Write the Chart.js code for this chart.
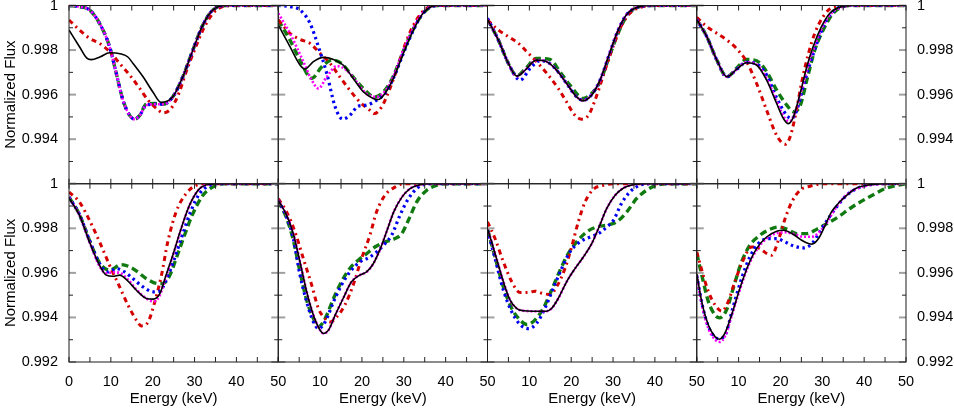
<!DOCTYPE html>
<html>
<head>
<meta charset="utf-8">
<script src="https://cdn.jsdelivr.net/npm/chart.js@4"></script>
<style>
  html, body { margin: 0; padding: 0; background: #ffffff; }
  #wrap { position: relative; width: 954px; height: 412px; overflow: hidden; background: #fff; }
  #wrap canvas { position: absolute; left: 0; top: 0; }
</style>
</head>
<body>
<div id="wrap"></div>
<script>
// ---------- tick labels / axes ----------
const xTickValues = [0, 5, 10, 15, 20, 25, 30, 35, 40, 45, 50];
const xLabelValues = [0, 10, 20, 30, 40, 50];
const xLabelTexts = ['0', '10', '20', '30', '40', '50'];
const yTickValues = [0.992, 0.993, 0.994, 0.995, 0.996, 0.997, 0.998, 0.999, 1.0];
const yLabelValues = [1.0, 0.998, 0.996, 0.994, 0.992];
const yLabelTexts = ['1', '0.998', '0.996', '0.994', '0.992'];
const xTitle = 'Energy (keV)';
const yTitle = 'Normalized Flux';
const seriesNames = ['black', 'magenta', 'blue', 'red', 'green'];

// ---------- data: [energy keV, normalized flux] ----------
// Panel 1 (top, column 1)
const p1Black = [[0,0.9989],[2.5,0.99815],[4.2,0.99765],[5.3,0.99757],[7.5,0.9977],[9.7,0.99788],[12.5,0.99782],[14,0.9977],[15.3,0.9974],[17.7,0.9968],[20,0.99613],[22,0.99565],[24.8,0.9959],[27.2,0.9968],[29.6,0.998],[32,0.99913],[34.4,0.9998],[37.6,1.0],[50,1.0]];
const p1Blue = [[0,1.0],[2.5,0.99995],[4.9,0.9998],[7.3,0.9992],[9.7,0.99815],[11.3,0.99695],[12.9,0.99575],[14.5,0.99507],[15.7,0.9949],[16.9,0.99507],[18.5,0.99553],[20.5,0.99557],[22.5,0.99557],[24.8,0.9959],[27.2,0.9968],[29.6,0.998],[32,0.99913],[34.4,0.9998],[37.6,1.0],[50,1.0]];
const p1Magenta = [[0,1.0],[2.5,0.99995],[4.9,0.9998],[7.3,0.9992],[9.7,0.99815],[11.3,0.99695],[12.9,0.99575],[14.5,0.99507],[15.7,0.9949],[16.9,0.99507],[18.5,0.99553],[20.5,0.99557],[22.5,0.99557],[24.8,0.9959],[27.2,0.9968],[29.6,0.998],[32,0.99913],[34.4,0.9998],[37.6,1.0],[50,1.0]];
const p1Green = [[0,1.0],[2.5,0.99995],[4.9,0.9998],[7.3,0.9992],[9.7,0.99815],[11.3,0.99695],[12.9,0.99575],[14.5,0.99507],[15.7,0.9949],[16.9,0.99507],[18.5,0.99558],[20.5,0.9956],[22.5,0.99557],[24.8,0.9959],[27.2,0.9968],[29.6,0.998],[32,0.99913],[34.4,0.9998],[37.6,1.0],[50,1.0]];
const p1Red = [[0,0.99935],[2.5,0.9989],[4.9,0.99853],[7.3,0.9983],[9.7,0.99793],[12.1,0.9974],[14.5,0.99688],[16.9,0.99628],[18.9,0.99575],[20.9,0.99538],[22.5,0.99518],[24.4,0.99538],[26.4,0.99613],[28,0.99703],[30,0.998],[32,0.9989],[34.4,0.99965],[36.8,0.99995],[40,1.0],[50,1.0]];

// Panel 2 (top, column 2)
const p2Black = [[0,0.99913],[2.8,0.99815],[5.2,0.99733],[6.4,0.99715],[8.4,0.99748],[10.8,0.99767],[13.2,0.99758],[15.5,0.99733],[17.9,0.99673],[20.3,0.99613],[22.7,0.99583],[23.9,0.99578],[25.5,0.99605],[27.5,0.99673],[29.9,0.99785],[32.3,0.9989],[34.6,0.99965],[37.8,1.0],[50,1.0]];
const p2Green = [[0,0.99935],[2.8,0.99845],[5.2,0.99755],[8,0.99673],[10.4,0.99725],[12.8,0.99755],[15.1,0.9974],[17.5,0.99688],[20.3,0.99628],[23.1,0.9959],[25.5,0.9962],[27.5,0.99683],[29.9,0.99795],[32.3,0.99895],[34.6,0.99965],[37.8,1.0],[50,1.0]];
const p2Magenta = [[0,0.99965],[2.8,0.99875],[6,0.99748],[8,0.99665],[9.6,0.99628],[11.6,0.9968],[14,0.99728],[16.3,0.9971],[18.7,0.99658],[21,0.99605],[23.5,0.9959],[25.5,0.99615],[27.5,0.9968],[29.9,0.998],[32.3,0.99898],[34.6,0.99968],[37.8,1.0],[50,1.0]];
const p2Blue = [[0,1.0],[2.8,0.99995],[5.2,0.9998],[7.6,0.9992],[9.6,0.99815],[11.6,0.99695],[13.6,0.99545],[15.4,0.9949],[17.1,0.99507],[19.1,0.99548],[21.1,0.99553],[23.5,0.99575],[25.5,0.99605],[27.5,0.99673],[29.9,0.99785],[32.3,0.9989],[34.6,0.99965],[37.8,1.0],[50,1.0]];
const p2Red = [[0,0.99935],[2.8,0.99875],[5.2,0.99848],[7.6,0.9983],[10,0.99785],[12.4,0.9974],[14.7,0.9968],[17.1,0.9962],[19.5,0.99567],[21.9,0.9953],[22.9,0.99515],[24.7,0.99545],[26.7,0.99628],[28.7,0.99733],[30.7,0.99845],[33,0.99935],[35.5,0.99988],[38,1.0],[50,1.0]];

// Panel 3 (top, column 3)
const p3Black = [[0,0.99938],[2.6,0.99845],[5,0.9974],[7,0.99683],[9,0.9971],[11.7,0.99755],[14.1,0.99748],[16.5,0.9971],[18.9,0.9965],[21.3,0.9959],[22.9,0.99572],[24.9,0.99598],[26.9,0.99665],[28.9,0.9977],[30.9,0.99875],[33.2,0.99958],[36.4,0.99995],[40,1.0],[50,1.0]];
const p3Magenta = [[0,0.99938],[2.6,0.99845],[5,0.9974],[7,0.99683],[9,0.9971],[11.7,0.99755],[14.1,0.99748],[16.5,0.9971],[18.9,0.9965],[21.3,0.9959],[22.9,0.99574],[24.9,0.996],[26.9,0.99665],[28.9,0.9977],[30.9,0.99875],[33.2,0.99958],[36.4,0.99995],[40,1.0],[50,1.0]];
const p3Blue = [[0,0.99943],[2.6,0.99845],[5,0.9974],[7.8,0.99665],[10.2,0.99718],[12.5,0.99752],[14.1,0.99748],[16.5,0.9971],[18.9,0.9965],[21.3,0.9959],[22.9,0.99575],[24.9,0.996],[26.9,0.99665],[28.9,0.9977],[30.9,0.99875],[33.2,0.99958],[36.4,0.99995],[40,1.0],[50,1.0]];
const p3Green = [[0,0.99938],[2.6,0.99845],[5,0.9974],[7,0.99685],[9,0.99715],[11.7,0.99762],[14.9,0.99758],[17.3,0.99703],[19.7,0.99643],[22.9,0.99583],[24.9,0.99605],[26.9,0.99658],[28.9,0.9976],[30.9,0.99862],[33.2,0.9995],[36.4,0.99995],[40,1.0],[50,1.0]];
const p3Red = [[0,0.99935],[2.6,0.9989],[5,0.9986],[7.4,0.9983],[9.8,0.99785],[12.1,0.9974],[14.5,0.99688],[16.9,0.99628],[18.9,0.99567],[20.9,0.99507],[22.5,0.9949],[24.1,0.99507],[25.7,0.99575],[27.7,0.99688],[29.7,0.998],[31.7,0.99898],[34,0.99965],[37.2,0.99995],[40,1.0],[50,1.0]];

// Panel 4 (top, column 4)
const p4Black = [[0,0.99938],[2.4,0.9986],[4.8,0.99755],[7.2,0.9968],[9.5,0.99713],[11.9,0.99743],[14.3,0.99733],[16.7,0.99665],[19.1,0.9956],[20.7,0.99493],[21.9,0.9947],[23.1,0.995],[24.7,0.99605],[26.3,0.99725],[27.8,0.99815],[29.8,0.99905],[31.8,0.99965],[34.6,0.99995],[38,1.0],[50,1.0]];
const p4Magenta = [[0,0.99938],[2.4,0.9986],[4.8,0.99755],[7.2,0.9968],[9.5,0.99713],[11.9,0.99745],[14.3,0.99735],[16.7,0.99672],[19.1,0.9957],[21,0.99495],[22.2,0.9948],[23.4,0.99515],[25,0.9962],[26.6,0.9973],[28.3,0.99825],[30.2,0.9991],[32.3,0.99968],[35,0.99995],[38,1.0],[50,1.0]];
const p4Blue = [[0,0.99938],[2.4,0.9986],[4.8,0.99755],[7.2,0.9968],[9.5,0.99713],[11.9,0.99745],[14.3,0.99738],[16.7,0.99688],[19.1,0.99585],[21.5,0.99507],[22.7,0.99493],[24,0.99535],[25.5,0.9964],[27.1,0.9974],[28.7,0.9983],[30.6,0.9992],[33,0.9998],[37,1.0],[50,1.0]];
const p4Green = [[0,0.99938],[2.4,0.9986],[4.8,0.99755],[7.2,0.9968],[9.5,0.99718],[11.9,0.99758],[14.3,0.99752],[16.7,0.99703],[19.1,0.9962],[21.5,0.99553],[23.1,0.99523],[24.7,0.9955],[26.3,0.99665],[28.2,0.998],[30.2,0.9989],[32.6,0.99965],[35,0.99995],[38,1.0],[50,1.0]];
const p4Red = [[0,0.99947],[2.4,0.99905],[4.8,0.99875],[7.2,0.99845],[9.5,0.99807],[11.9,0.99748],[14.3,0.9965],[16.7,0.9953],[19.1,0.99417],[21.1,0.99377],[22.3,0.9941],[23.5,0.995],[25.1,0.99658],[26.7,0.99785],[28.2,0.99875],[30.2,0.9995],[32.6,0.99993],[36,1.0],[50,1.0]];

// Panel 5 (bottom, column 1)
const p5Black = [[0,0.99936],[2.5,0.99859],[4.9,0.99739],[7.3,0.99634],[8.9,0.9959],[10.5,0.99585],[12.1,0.9959],[14.1,0.99563],[16.1,0.99522],[18.5,0.99485],[20.1,0.99482],[21.7,0.99507],[23.2,0.9959],[24.8,0.99679],[26.8,0.99799],[28.8,0.99904],[31.2,0.99978],[33.6,0.99998],[36,1.0],[50,1.0]];
const p5Magenta = [[0,0.99936],[2.5,0.99859],[4.9,0.99739],[7.3,0.9963],[8.9,0.99598],[10.5,0.99603],[12.1,0.996],[14.1,0.9957],[16.1,0.99525],[18.5,0.99485],[20.3,0.99472],[21.7,0.995],[23.2,0.99585],[24.8,0.99676],[26.8,0.99797],[28.8,0.99903],[31.2,0.99978],[33.6,0.99998],[36,1.0],[50,1.0]];
const p5Blue = [[0,0.9994],[2.5,0.99862],[4.9,0.99746],[7.3,0.99642],[9.3,0.99604],[11.3,0.99619],[13.3,0.99604],[15.3,0.99574],[17.7,0.99537],[20.1,0.99515],[21.7,0.99518],[23.2,0.99567],[25.2,0.99664],[27.2,0.99776],[29.2,0.99881],[31.2,0.99956],[33.6,0.99993],[36,1.0],[50,1.0]];
const p5Green = [[0,0.9994],[2.5,0.99862],[4.9,0.99746],[7.3,0.99645],[9.7,0.99612],[12.5,0.99637],[15.3,0.99619],[18.5,0.99574],[21.3,0.99552],[22.5,0.99552],[24.1,0.9959],[25.6,0.99664],[27.6,0.99769],[29.6,0.99866],[32,0.99948],[34.4,0.99986],[36.8,1.0],[50,1.0]];
const p5Red = [[0,0.99963],[2.5,0.99918],[4.9,0.99836],[7.3,0.99739],[9.7,0.99634],[12.1,0.99537],[14.1,0.99455],[16.1,0.99388],[17.3,0.99362],[18.9,0.9938],[20.5,0.9947],[22.1,0.9959],[23.6,0.99739],[25.6,0.99874],[28,0.99956],[30.4,0.99993],[33,1.0],[50,1.0]];

// Panel 6 (bottom, column 2)
const p6Black = [[0,0.99926],[2,0.99859],[3.6,0.99776],[5.2,0.99649],[6.8,0.99515],[8.4,0.9941],[10,0.99343],[10.8,0.99328],[12,0.99343],[13.6,0.9941],[15.5,0.99485],[17.5,0.9956],[19.5,0.9959],[21.1,0.99604],[22.7,0.99641],[24.4,0.99709],[26,0.99791],[27.6,0.99874],[29.6,0.99941],[31.5,0.99978],[33.9,0.99996],[36,1.0],[50,1.0]];
const p6Magenta = [[0,0.99926],[2,0.99859],[3.6,0.99776],[5.2,0.99649],[6.8,0.99515],[8.4,0.9941],[10,0.99343],[10.8,0.99328],[12,0.99343],[13.6,0.9941],[15.5,0.99485],[17.5,0.9956],[19.5,0.9959],[21.1,0.99604],[22.7,0.99641],[24.4,0.99709],[26,0.99791],[27.6,0.99874],[29.6,0.99941],[31.5,0.99978],[33.9,0.99996],[36,1.0],[50,1.0]];
const p6Blue = [[0,0.99926],[2,0.9985],[3.6,0.99754],[5.2,0.9959],[6.8,0.9947],[8.4,0.9938],[9.6,0.9935],[11.2,0.9938],[13.2,0.9947],[15.1,0.99545],[17.1,0.99604],[19.5,0.99649],[21.9,0.99671],[23.5,0.99694],[25.5,0.99731],[27.1,0.99769],[29.1,0.99859],[31.1,0.99933],[33.5,0.99985],[36.3,1.0],[50,1.0]];
const p6Green = [[0,0.99922],[2,0.99845],[3.6,0.99747],[5.2,0.99605],[6.8,0.99477],[8.4,0.99395],[9.6,0.99358],[11.2,0.99395],[13.2,0.99485],[15.1,0.9956],[17.1,0.9962],[19.1,0.99657],[21.1,0.99686],[23.1,0.99716],[25.5,0.99739],[27.9,0.99754],[29.5,0.99776],[31.1,0.99836],[33.1,0.99919],[35.5,0.99971],[37.8,0.99993],[40,1.0],[50,1.0]];
const p6Red = [[0,0.99933],[2,0.99874],[4,0.99784],[6,0.99664],[8,0.99545],[9.6,0.9944],[10.8,0.99403],[12.4,0.9938],[14,0.99403],[15.9,0.99455],[17.9,0.99545],[19.9,0.99664],[21.9,0.99769],[23.5,0.99874],[25.5,0.99948],[27.9,0.99985],[30,1.0],[50,1.0]];

// Panel 7 (bottom, column 3)
const p7Black = [[0,0.99799],[1.8,0.99687],[3.8,0.9956],[5.4,0.99478],[7,0.9944],[8.6,0.9943],[10.9,0.99428],[14.1,0.99428],[15.3,0.9944],[16.9,0.99485],[18.9,0.9956],[20.9,0.99619],[22.9,0.99671],[24.9,0.99731],[26.5,0.99799],[28.5,0.99889],[30.5,0.99948],[32.5,0.99981],[34.8,0.99996],[37,1.0],[50,1.0]];
const p7Magenta = [[0,0.99799],[1.8,0.99687],[3.8,0.9956],[5.4,0.99478],[7,0.9944],[8.6,0.9943],[10.9,0.99428],[14.1,0.99428],[15.3,0.9944],[16.9,0.99485],[18.9,0.9956],[20.9,0.99619],[22.9,0.99671],[24.9,0.99731],[26.5,0.99799],[28.5,0.99889],[30.5,0.99948],[32.5,0.99981],[34.8,0.99996],[37,1.0],[50,1.0]];
const p7Blue = [[0,0.99792],[1.8,0.99665],[3.8,0.99522],[5.8,0.99425],[7.8,0.99368],[9.8,0.9935],[11.7,0.99373],[13.7,0.9944],[15.7,0.9953],[17.7,0.99619],[19.7,0.99694],[22.1,0.99739],[24.5,0.99761],[26.5,0.99776],[28.5,0.99806],[30.1,0.99836],[32,0.99911],[34,0.99963],[36.4,0.99993],[39,1.0],[50,1.0]];
const p7Green = [[0,0.99796],[1.8,0.99672],[3.8,0.99537],[5.8,0.9944],[7.8,0.99388],[9.4,0.99368],[11.3,0.99388],[13.3,0.9944],[15.3,0.99522],[17.3,0.9961],[19.3,0.99687],[21.3,0.99739],[23.7,0.99784],[26.1,0.99806],[28.5,0.99814],[30.9,0.99829],[33.3,0.99874],[35.6,0.99933],[38,0.99971],[40.4,0.99993],[43,1.0],[50,1.0]];
const p7Red = [[0,0.99829],[1.8,0.99754],[3.8,0.99649],[5.8,0.9956],[7.8,0.99512],[9.8,0.99512],[11.3,0.99518],[13.3,0.99507],[14.9,0.99503],[16.5,0.99537],[18.5,0.99619],[20.1,0.99716],[21.7,0.99829],[23.3,0.99918],[25.3,0.99975],[27.7,0.99993],[30,1.0],[50,1.0]];

// Panel 8 (bottom, column 4)
const p8Black = [[0,0.99597],[1.2,0.9947],[2.8,0.99365],[4.4,0.99313],[5.4,0.99302],[6.7,0.99328],[8.3,0.9941],[10.3,0.9953],[12.3,0.99634],[14.3,0.99709],[16.7,0.99761],[19.1,0.99787],[20.7,0.99791],[23.1,0.99772],[25.5,0.99742],[27.5,0.99729],[29.1,0.99754],[30.7,0.99814],[32.2,0.99874],[33.8,0.99911],[35.8,0.99948],[38.2,0.99981],[40.6,0.99993],[44.6,1.0],[50,1.0]];
const p8Magenta = [[0,0.9959],[1.2,0.9946],[2.8,0.9935],[4.4,0.993],[5.5,0.9929],[6.8,0.99318],[8.3,0.99405],[10.3,0.99525],[12.3,0.9963],[14.3,0.99703],[16.7,0.99755],[19.1,0.99778],[21,0.99782],[23.1,0.99775],[25.5,0.99762],[27.5,0.99762],[29.1,0.9978],[30.7,0.99815],[32.5,0.9987],[34.5,0.99925],[36.6,0.99962],[38.5,0.9998],[41,0.99993],[45,1.0],[50,1.0]];
const p8Blue = [[0,0.99588],[1.5,0.9944],[3,0.9935],[5.2,0.99305],[6.7,0.99318],[8.7,0.99448],[10.7,0.99574],[12.7,0.99672],[14.7,0.99731],[17.1,0.99754],[19.1,0.99754],[21.1,0.99739],[23.1,0.99721],[25.5,0.99712],[27.5,0.99731],[29.4,0.99784],[31.4,0.99843],[33.4,0.99896],[35.8,0.99948],[38.2,0.99978],[40.6,0.99993],[44,1.0],[50,1.0]];
const p8Green = [[0,0.99687],[1.2,0.9959],[2.8,0.9947],[4.4,0.9941],[5.4,0.99398],[7.1,0.99433],[8.7,0.9953],[10.7,0.99649],[12.7,0.99724],[15.1,0.99769],[17.5,0.99796],[19.5,0.99806],[21.5,0.99796],[23.9,0.99776],[26.3,0.99776],[28.7,0.99796],[31.1,0.99821],[33.8,0.99851],[36.6,0.99889],[39.4,0.99922],[42.2,0.99951],[45,0.99978],[47.8,0.99993],[50,1.0]];
const p8Red = [[0,0.99694],[1.2,0.99612],[2.8,0.99515],[4.4,0.99455],[6,0.99428],[7.5,0.9947],[9.1,0.9956],[11.1,0.99657],[13.1,0.99716],[15.1,0.99709],[16.7,0.99687],[17.9,0.99679],[19.5,0.99746],[21.1,0.99843],[22.7,0.99918],[24.7,0.99971],[27.1,0.99989],[30.3,1.0],[50,1.0]];

const panels = [
  [p1Black, p1Magenta, p1Blue, p1Red, p1Green],
  [p2Black, p2Magenta, p2Blue, p2Red, p2Green],
  [p3Black, p3Magenta, p3Blue, p3Red, p3Green],
  [p4Black, p4Magenta, p4Blue, p4Red, p4Green],
  [p5Black, p5Magenta, p5Blue, p5Red, p5Green],
  [p6Black, p6Magenta, p6Blue, p6Red, p6Green],
  [p7Black, p7Magenta, p7Blue, p7Red, p7Green],
  [p8Black, p8Magenta, p8Blue, p8Red, p8Green]
];

// ---------- styles ----------
const styles = {
  black:   { color: '#000000', width: 1.6, dash: [] },
  magenta: { color: '#ff00ff', width: 2.6, dash: [2, 2] },
  blue:    { color: '#0000f0', width: 3.2, dash: [2.5, 3.5] },
  red:     { color: '#d40000', width: 3.0, dash: [5, 4, 2, 4] },
  green:   { color: '#107a10', width: 3.4, dash: [7, 4] }
};

const W = 954, H = 412;
const plotLeft = 69, plotRight = 906, plotTop = 5.5, plotBottom = 362;
const cellW = (plotRight - plotLeft) / 4, cellH = (plotBottom - plotTop) / 2;
const tickFont = '14.5px "Liberation Sans", Arial, Helvetica, sans-serif';
const titleFont = '15px "Liberation Sans", Arial, Helvetica, sans-serif';

const framePlugin = {
  id: 'frameTicks',
  afterDatasetsDraw(chart, args, o) {
    const { ctx, chartArea: a } = chart;
    const x = chart.scales.x, y = chart.scales.y;
    ctx.save();
    const seg = (x1, y1, x2, y2) => { ctx.beginPath(); ctx.moveTo(x1, y1); ctx.lineTo(x2, y2); ctx.stroke(); };
    // x ticks (inward)
    ctx.strokeStyle = '#222'; ctx.lineWidth = 1;
    xTickValues.forEach(v => {
      const px = x.getPixelForValue(v);
      seg(px, a.top, px, a.top + 5);
      seg(px, a.bottom, px, a.bottom - 5);
    });
    // y ticks
    yTickValues.forEach((v, i) => {
      const py = y.getPixelForValue(v);
      const major = (i % 2 === 0);
      if (major) { ctx.strokeStyle = '#a0a0a0'; ctx.lineWidth = 2; }
      else { ctx.strokeStyle = '#222'; ctx.lineWidth = 1; }
      const len = major ? 7 : 4;
      seg(a.left, py, a.left + len, py);
      seg(a.right, py, a.right - len, py);
    });
    // frame
    ctx.strokeStyle = '#1a1a1a'; ctx.lineWidth = 1;
    ctx.strokeRect(a.left, a.top, a.right - a.left, a.bottom - a.top);
    // labels
    ctx.fillStyle = '#000';
    ctx.font = tickFont;
    ctx.textBaseline = 'middle';
    if (o.leftLabels || o.rightLabels) {
      yLabelValues.forEach((v, i) => {
        if (o.row === 0 && v < 0.9925) return;
        const py = y.getPixelForValue(v);
        if (o.leftLabels) { ctx.textAlign = 'right'; ctx.fillText(yLabelTexts[i], a.left - 11, py); }
        if (o.rightLabels) { ctx.textAlign = 'left'; ctx.fillText(yLabelTexts[i], a.right + 11, py); }
      });
    }
    if (o.bottomLabels) {
      ctx.textAlign = 'center';
      xLabelValues.forEach((v, i) => {
        if (o.col > 0 && v === 0) return;
        ctx.fillText(xLabelTexts[i], x.getPixelForValue(v), a.bottom + 20);
      });
      ctx.font = titleFont;
      ctx.fillText(xTitle, (a.left + a.right) / 2, 399);
    }
    if (o.leftLabels) {
      ctx.font = titleFont;
      ctx.translate(10.5, (a.top + a.bottom) / 2);
      ctx.rotate(-Math.PI / 2);
      ctx.textAlign = 'center';
      ctx.fillText(yTitle, 0, 0);
    }
    ctx.restore();
  }
};

const wrap = document.getElementById('wrap');
panels.forEach((series, idx) => {
  const row = Math.floor(idx / 4), col = idx % 4;
  const left = plotLeft + col * cellW, right = left + cellW;
  const top = plotTop + row * cellH, bottom = top + cellH;
  const cv = document.createElement('canvas');
  cv.width = W; cv.height = H;
  cv.style.width = W + 'px'; cv.style.height = H + 'px';
  wrap.appendChild(cv);
  const datasets = series.map((pts, k) => {
    const st = styles[seriesNames[k]];
    return {
      label: seriesNames[k],
      data: pts.map(p => ({ x: p[0], y: p[1] })),
      borderColor: st.color,
      borderWidth: st.width,
      borderDash: st.dash,
      borderCapStyle: 'butt',
      pointRadius: 0,
      fill: false,
      cubicInterpolationMode: 'monotone'
    };
  });
  new Chart(cv, {
    type: 'line',
    data: { datasets },
    options: {
      responsive: false,
      animation: false,
      devicePixelRatio: 1,
      layout: { padding: { left: left, right: W - right, top: top, bottom: H - bottom } },
      plugins: {
        legend: { display: false },
        tooltip: { enabled: false },
        frameTicks: { row, col, leftLabels: col === 0, rightLabels: col === 3, bottomLabels: row === 1 }
      },
      scales: {
        x: { type: 'linear', min: 0, max: 50, display: false },
        y: { type: 'linear', min: 0.992, max: 1.0, display: false }
      },
      events: []
    },
    plugins: [framePlugin]
  });
});
</script>
</body>
</html>
